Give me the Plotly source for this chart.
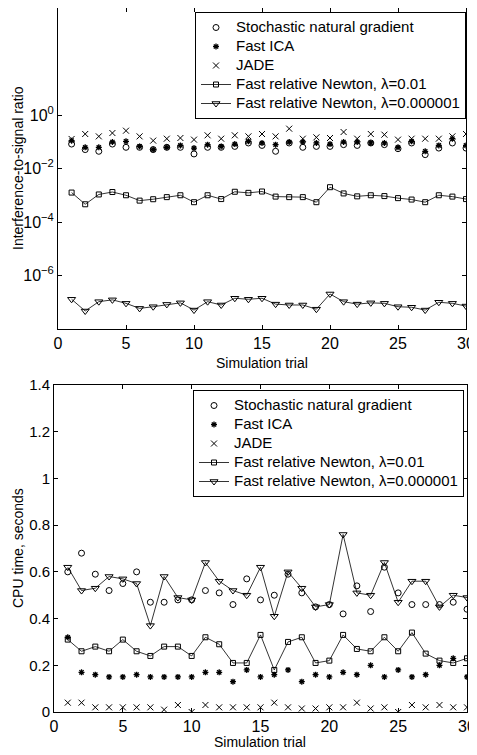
import plotly.graph_objects as go

trials = list(range(1, 31))

# ---- Top panel: interference-to-signal ratio ----
isr_sng = [0.082, 0.051, 0.044, 0.082, 0.062, 0.062, 0.051, 0.062, 0.062, 0.035,
           0.062, 0.062, 0.067, 0.090, 0.073, 0.044, 0.090, 0.062, 0.067, 0.067,
           0.078, 0.073, 0.090, 0.078, 0.055, 0.090, 0.033, 0.058, 0.090, 0.058]
isr_fastica = [0.110, 0.062, 0.062, 0.098, 0.104, 0.067, 0.051, 0.062, 0.073, 0.058,
               0.078, 0.067, 0.082, 0.104, 0.090, 0.078, 0.098, 0.098, 0.090, 0.082,
               0.098, 0.098, 0.090, 0.090, 0.062, 0.104, 0.044, 0.073, 0.130, 0.073]
isr_jade = [0.127, 0.195, 0.159, 0.212, 0.259, 0.159, 0.110, 0.130, 0.138, 0.120,
            0.174, 0.130, 0.174, 0.159, 0.195, 0.159, 0.308, 0.130, 0.146, 0.138,
            0.231, 0.130, 0.195, 0.184, 0.120, 0.130, 0.130, 0.130, 0.159, 0.195]
isr_frn_001 = [1.26e-3, 4.6e-4, 1.07e-3, 1.32e-3, 1.0e-3, 6.3e-4, 7.1e-4, 8.5e-4, 1.0e-3, 5.5e-4,
               1.0e-3, 7.2e-4, 1.35e-3, 1.23e-3, 1.38e-3, 8.9e-4, 8.5e-4, 8.5e-4, 5.5e-4, 2.0e-3,
               1.17e-3, 9.1e-4, 1.0e-3, 9.3e-4, 7.8e-4, 6.9e-4, 5.5e-4, 1.0e-3, 8.9e-4, 7.2e-4]
isr_frn_1e6 = [1.29e-7, 4.7e-8, 1.05e-7, 1.23e-7, 9.1e-8, 5.9e-8, 6.8e-8, 8.3e-8, 9.5e-8, 5.1e-8,
               1.05e-7, 7.9e-8, 1.41e-7, 1.29e-7, 1.41e-7, 8.5e-8, 7.9e-8, 7.9e-8, 5.5e-8, 2.04e-7,
               1.05e-7, 8.5e-8, 9.5e-8, 9.1e-8, 6.8e-8, 6.5e-8, 5.1e-8, 1.0e-7, 9.1e-8, 7.2e-8]

# ---- Bottom panel: CPU time, seconds ----
cpu_sng = [0.60, 0.68, 0.59, 0.52, 0.55, 0.60, 0.47, 0.47, 0.48, 0.48,
           0.52, 0.51, 0.46, 0.57, 0.48, 0.50, 0.59, 0.51, 0.45, 0.46,
           0.42, 0.54, 0.43, 0.62, 0.51, 0.46, 0.46, 0.46, 0.47, 0.44]
cpu_fastica = [0.32, 0.17, 0.16, 0.15, 0.15, 0.16, 0.15, 0.15, 0.15, 0.15,
               0.17, 0.17, 0.13, 0.18, 0.15, 0.16, 0.18, 0.13, 0.16, 0.15,
               0.17, 0.16, 0.20, 0.15, 0.18, 0.15, 0.16, 0.20, 0.23, 0.15]
cpu_jade = [0.04, 0.04, 0.02, 0.02, 0.02, 0.02, 0.02, 0.01, 0.03, 0.00,
            0.03, 0.02, 0.02, 0.02, 0.02, 0.04, 0.02, 0.015, 0.015, 0.02,
            0.02, 0.04, 0.015, 0.02, 0.00, 0.03, 0.02, 0.03, 0.02, 0.02]
cpu_frn_001 = [0.31, 0.26, 0.28, 0.26, 0.31, 0.26, 0.24, 0.28, 0.28, 0.24,
               0.32, 0.29, 0.21, 0.21, 0.33, 0.18, 0.30, 0.32, 0.21, 0.22,
               0.33, 0.27, 0.26, 0.32, 0.26, 0.34, 0.25, 0.22, 0.21, 0.23]
cpu_frn_1e6 = [0.62, 0.52, 0.53, 0.58, 0.57, 0.55, 0.37, 0.58, 0.49, 0.48,
               0.64, 0.56, 0.52, 0.50, 0.62, 0.41, 0.60, 0.53, 0.45, 0.46,
               0.76, 0.51, 0.50, 0.64, 0.47, 0.56, 0.56, 0.45, 0.50, 0.49]

names = ["Stochastic natural gradient", "Fast ICA", "JADE",
         "Fast relative Newton, λ=0.01", "Fast relative Newton, λ=0.000001"]

FONT = "Liberation Sans, Arial, Helvetica, sans-serif"
K = "black"

fig = go.Figure()


def lbl(s):
    return '<span style="font-size:15px">' + s + '</span>'


def add_panel(series, xa, ya, legend):
    sng, fica, jade, f1, f2 = series
    fig.add_trace(go.Scatter(x=trials, y=sng, mode="markers", name=lbl(names[0]),
                             marker=dict(symbol="circle-open", size=6, color=K, line=dict(width=1, color=K)),
                             xaxis=xa, yaxis=ya, legend=legend))
    fig.add_trace(go.Scatter(x=trials, y=fica, mode="markers", name=lbl(names[1]),
                             marker=dict(symbol="asterisk-open", size=5, color=K, line=dict(width=1.3, color=K)),
                             xaxis=xa, yaxis=ya, legend=legend))
    fig.add_trace(go.Scatter(x=trials, y=jade, mode="markers", name=lbl(names[2]),
                             marker=dict(symbol="x-thin-open", size=6, color=K, line=dict(width=1, color=K)),
                             xaxis=xa, yaxis=ya, legend=legend))
    fig.add_trace(go.Scatter(x=trials, y=f1, mode="lines+markers", name=lbl(names[3]),
                             line=dict(color=K, width=0.8),
                             marker=dict(symbol="square-open", size=5, color=K, line=dict(width=1, color=K)),
                             xaxis=xa, yaxis=ya, legend=legend))
    fig.add_trace(go.Scatter(x=trials, y=f2, mode="lines+markers", name=lbl(names[4]),
                             line=dict(color=K, width=0.8),
                             marker=dict(symbol="triangle-down-open", size=7, color=K, line=dict(width=1, color=K)),
                             xaxis=xa, yaxis=ya, legend=legend))


add_panel([isr_sng, isr_fastica, isr_jade, isr_frn_001, isr_frn_1e6], "x", "y", "legend")
add_panel([cpu_sng, cpu_fastica, cpu_jade, cpu_frn_001, cpu_frn_1e6], "x2", "y2", "legend2")

# the page body has an 8px margin: the figure starts 8px right/down of the window corner
OFF = 8
W, H = 477 - OFF, 755 - OFF


def fx(a):
    return (a - OFF) / W


def fy(b):
    return 1 - (b - OFF) / H


def px_x(a, b):
    return [fx(a), fx(b)]


def px_y(top, bottom):
    return [fy(bottom), fy(top)]


axis_common = dict(showline=True, linecolor=K, linewidth=1, mirror="allticks",
                   ticks="inside", ticklen=4, tickwidth=1, tickcolor=K,
                   showgrid=False, zeroline=False, ticklabeloverflow="allow",
                   tickfont=dict(family=FONT, size=16, color=K))

leg_common = dict(xanchor="left", yanchor="top", bgcolor="white", bordercolor=K, borderwidth=1,
                  font=dict(family=FONT, size=11, color=K), itemwidth=30, tracegroupgap=0)

fig.update_layout(
    width=W, height=H,
    margin=dict(l=0, r=0, t=0, b=0, pad=0, autoexpand=False),
    paper_bgcolor="white", plot_bgcolor="white",
    font=dict(family=FONT, color=K),
    xaxis=dict(domain=px_x(58, 466), range=[0, 30], tickvals=[0, 5, 10, 15, 20, 25, 30],
               anchor="y", **axis_common),
    yaxis=dict(domain=px_y(8, 329), type="log", range=[-8, 4],
               tickvals=[1e-6, 1e-4, 1e-2, 1],
               ticktext=["10<sup>−6</sup>", "10<sup>−4</sup>", "10<sup>−2</sup>", "10<sup>0</sup>"],
               anchor="x", **axis_common),
    xaxis2=dict(domain=px_x(54, 467), range=[0, 30], tickvals=[0, 5, 10, 15, 20, 25, 30],
                anchor="y2", **axis_common),
    yaxis2=dict(domain=px_y(385, 712), range=[0, 1.4],
                tickvals=[0, 0.2, 0.4, 0.6, 0.8, 1.0, 1.2, 1.4],
                ticktext=["0", "0.2", "0.4", "0.6", "0.8", "1", "1.2", "1.4"],
                anchor="x2", **{**axis_common, "tickfont": dict(family=FONT, size=15, color=K)}),
    legend=dict(x=fx(195), y=fy(12), **leg_common),
    legend2=dict(x=fx(193), y=fy(390), **leg_common),
    showlegend=True,
)

ann_font = dict(family=FONT, size=14, color=K)
fig.add_annotation(x=fx(18), y=fy(168), xref="paper", yref="paper", text="Interference-to-signal ratio",
                   textangle=-90, showarrow=False, xanchor="center", yanchor="middle", font=ann_font)
fig.add_annotation(x=fx(262), y=fy(363), xref="paper", yref="paper", text="Simulation trial",
                   showarrow=False, xanchor="center", yanchor="middle", font=ann_font)
fig.add_annotation(x=fx(18), y=fy(548), xref="paper", yref="paper", text="CPU time, seconds",
                   textangle=-90, showarrow=False, xanchor="center", yanchor="middle", font=ann_font)
fig.add_annotation(x=fx(260), y=fy(742), xref="paper", yref="paper", text="Simulation trial",
                   showarrow=False, xanchor="center", yanchor="middle", font=ann_font)

fig.write_html("out.html")
